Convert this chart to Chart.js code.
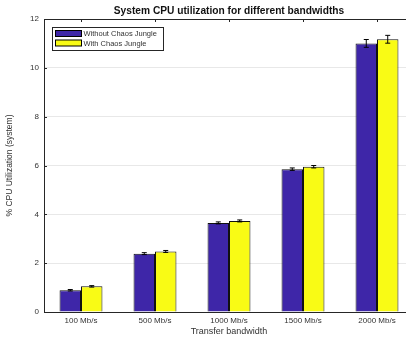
<!DOCTYPE html>
<html>
<head>
<meta charset="utf-8">
<script src="https://cdn.jsdelivr.net/npm/chart.js@4.4.1/dist/chart.umd.min.js"></script>
<style>
  html, body { margin: 0; padding: 0; background: #fff; overflow: hidden; }
  #wrap { width: 406px; height: 341px; overflow: hidden; }
  canvas { display: block; }
</style>
</head>
<body>
<div id="wrap"><canvas id="cpu" width="416" height="341"></canvas></div>
<script>
// data
const bandwidths = ['100 Mb/s', '500 Mb/s', '1000 Mb/s', '1500 Mb/s', '2000 Mb/s'];
const withoutCJ = [0.89, 2.39, 3.65, 5.85, 11.0];
const withCJ = [1.05, 2.48, 3.73, 5.95, 11.17];
const withoutErr = [0.03, 0.04, 0.04, 0.05, 0.16];
const withErr = [0.03, 0.04, 0.04, 0.05, 0.16];
const yTicks = [0, 2, 4, 6, 8, 10, 12];
const chartTitle = 'System CPU utilization for different bandwidths';

const AXIS = '#262626';
const TXT = '#333333';
const FONT = "'Liberation Sans', Arial, sans-serif";

// error bars, drawn through the y scale
const errorBars = {
  id: 'errorBars',
  afterDatasetsDraw(chart) {
    const ctx = chart.ctx, y = chart.scales.y;
    chart.data.datasets.forEach((ds, i) => {
      const meta = chart.getDatasetMeta(i);
      meta.data.forEach((bar, j) => {
        const v = ds.data[j], e = ds.errors[j];
        const top = y.getPixelForValue(v + e), bot = y.getPixelForValue(v - e);
        ctx.save();
        ctx.strokeStyle = '#000';
        ctx.lineWidth = 1;
        ctx.beginPath();
        ctx.moveTo(bar.x, top); ctx.lineTo(bar.x, bot);
        ctx.moveTo(bar.x - 2.5, top); ctx.lineTo(bar.x + 2.5, top);
        ctx.moveTo(bar.x - 2.5, bot); ctx.lineTo(bar.x + 2.5, bot);
        ctx.stroke();
        ctx.restore();
      });
    });
  }
};

// matlab-ish box: title over the axes, top line, inward ticks, legend inside
const boxAndLegend = {
  id: 'boxAndLegend',
  afterDraw(chart) {
    const ctx = chart.ctx, a = chart.chartArea;
    const x = chart.scales.x, y = chart.scales.y;
    ctx.save();
    ctx.fillStyle = '#111';
    ctx.font = 'bold 10.2px ' + FONT;
    ctx.textAlign = 'center';
    ctx.textBaseline = 'middle';
    ctx.fillText(chartTitle, (a.left + a.right) / 2, 11);

    ctx.strokeStyle = AXIS;
    ctx.lineWidth = 1;
    ctx.beginPath();
    ctx.moveTo(a.left, a.top + 0.5); ctx.lineTo(a.right, a.top + 0.5);
    y.ticks.forEach(t => {
      const py = Math.round(y.getPixelForValue(t.value)) + 0.5;
      ctx.moveTo(a.left, py); ctx.lineTo(a.left + 3, py);
    });
    bandwidths.forEach((b, i) => {
      const px = Math.round(x.getPixelForValue(i)) + 0.5;
      ctx.moveTo(px, a.top); ctx.lineTo(px, a.top + 3);
    });
    ctx.stroke();

    // legend
    const lx = 52.5, ly = 27.5, lw = 111, lh = 23;
    ctx.fillStyle = '#fff';
    ctx.fillRect(lx, ly, lw, lh);
    ctx.strokeStyle = AXIS;
    ctx.strokeRect(lx, ly, lw, lh);
    ctx.font = '7.5px ' + FONT;
    ctx.textAlign = 'left';
    ctx.textBaseline = 'middle';
    chart.data.datasets.forEach((ds, i) => {
      const ry = 30.5 + i * 9.5;
      ctx.fillStyle = ds.backgroundColor;
      ctx.fillRect(55.5, ry, 26, 6);
      ctx.strokeStyle = '#000';
      ctx.strokeRect(55.5, ry, 26, 6);
      ctx.fillStyle = TXT;
      ctx.fillText(ds.label, 83.5, ry + 3.5);
    });
    ctx.restore();
  }
};

new Chart(document.getElementById('cpu'), {
  type: 'bar',
  data: {
    labels: bandwidths,
    datasets: [
      { label: 'Without Chaos Jungle', data: withoutCJ, errors: withoutErr,
        backgroundColor: '#3e26a8', borderColor: '#111', borderWidth: 1 },
      { label: 'With Chaos Jungle', data: withCJ, errors: withErr,
        backgroundColor: '#f9fb15', borderColor: '#111', borderWidth: 1 }
    ]
  },
  options: {
    responsive: false,
    animation: false,
    layout: { padding: { left: 0, right: 2, top: 19, bottom: 0 } },
    datasets: { bar: { categoryPercentage: 0.58, barPercentage: 1.0 } },
    plugins: {
      legend: { display: false },
      tooltip: { enabled: false },
      title: { display: false }
    },
    scales: {
      x: {
        grid: { display: false, drawTicks: false },
        border: { display: true, color: AXIS, width: 1 },
        ticks: { color: TXT, font: { family: FONT, size: 8 }, padding: 4, maxRotation: 0 },
        title: { display: true, text: 'Transfer bandwidth', color: TXT,
          font: { family: FONT, size: 9 }, padding: { top: 0, bottom: 4 } },
        afterFit(s) { s.height = 29; }
      },
      y: {
        min: 0, max: 12,
        afterBuildTicks(s) { s.ticks = yTicks.map(v => ({ value: v })); },
        grid: { color: '#e8e8e8', drawTicks: false },
        border: { display: true, color: AXIS, width: 1 },
        ticks: { color: TXT, font: { family: FONT, size: 8 }, padding: 5 },
        title: { display: true, text: '% CPU Utilization (system)', color: TXT,
          font: { family: FONT, size: 8.5 }, padding: { top: 5, bottom: 0 } },
        afterFit(s) { s.width = 44; }
      }
    }
  },
  plugins: [errorBars, boxAndLegend]
});
</script>
</body>
</html>
